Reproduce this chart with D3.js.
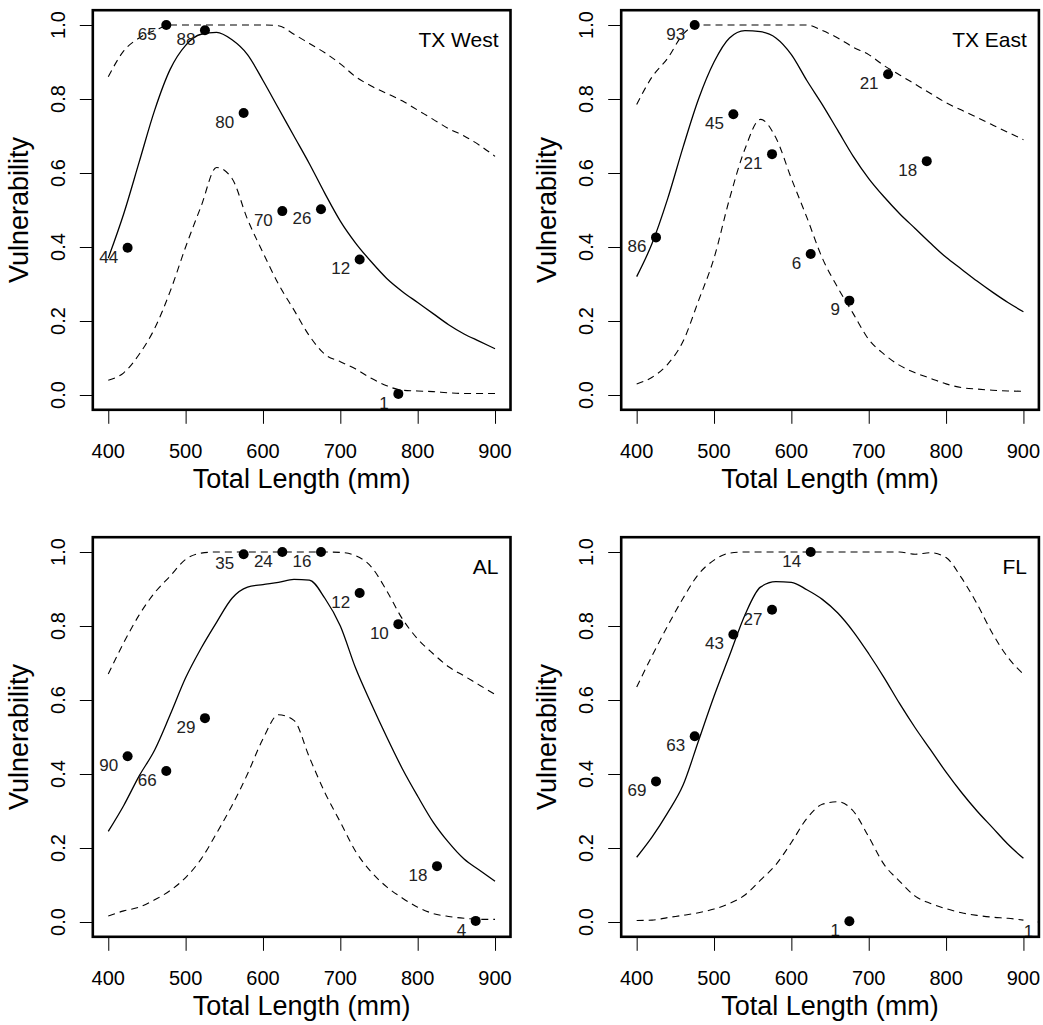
<!DOCTYPE html>
<html>
<head>
<meta charset="utf-8">
<script src="https://cdn.jsdelivr.net/npm/d3@7"></script>
<style>
  html, body { margin: 0; padding: 0; background: #fff; }
  text { font-family: "Liberation Sans", Arial, sans-serif; fill: #000; }
</style>
</head>
<body>
<svg id="chart" width="1043" height="1025"></svg>
<script>
// ---------- data ----------
const lengths = [400,420,440,460,480,500,520,540,560,580,600,620,640,660,680,700,720,740,760,780,800,820,840,860,880,900];
const xTicks = [400,500,600,700,800,900];
const yTicks = [0,0.2,0.4,0.6,0.8,1.0];
const yTickLabels = ["0.0","0.2","0.4","0.6","0.8","1.0"];
const panelNames = ["TX West","TX East","AL","FL"];

// TX West
const txWestFit   = [0.37,0.49,0.63,0.77,0.88,0.945,0.975,0.98,0.96,0.92,0.85,0.775,0.70,0.625,0.545,0.47,0.41,0.36,0.315,0.28,0.25,0.22,0.19,0.165,0.145,0.125];
const txWestUpper = [0.86,0.93,0.965,0.985,1.0,1.0,1.0,1.0,1.0,1.0,1.0,0.998,0.975,0.95,0.925,0.895,0.86,0.835,0.815,0.795,0.77,0.745,0.72,0.70,0.675,0.645];
const txWestLower = [0.04,0.06,0.11,0.18,0.28,0.40,0.51,0.615,0.585,0.475,0.385,0.30,0.23,0.16,0.11,0.09,0.07,0.045,0.025,0.013,0.011,0.009,0.006,0.004,0.004,0.004];
const txWestBinX  = [425,475,525,575,625,675,725,775];
const txWestObs   = [0.398,1.0,0.986,0.762,0.497,0.502,0.366,0.003];
const txWestN     = ["44","65","88","80","70","26","12","1"];

// TX East
const txEastFit   = [0.32,0.41,0.53,0.67,0.80,0.90,0.965,0.985,0.982,0.965,0.92,0.85,0.785,0.715,0.645,0.585,0.535,0.49,0.45,0.41,0.372,0.34,0.308,0.278,0.25,0.225];
const txEastUpper = [0.785,0.86,0.91,0.975,1.0,1.0,1.0,1.0,1.0,1.0,1.0,1.0,0.985,0.965,0.94,0.92,0.89,0.865,0.84,0.815,0.79,0.77,0.75,0.73,0.71,0.69];
const txEastLower = [0.03,0.048,0.083,0.145,0.255,0.37,0.53,0.665,0.745,0.695,0.585,0.48,0.37,0.29,0.22,0.15,0.11,0.08,0.06,0.045,0.03,0.02,0.016,0.013,0.011,0.01];
const txEastBinX  = [425,475,525,575,625,675,725,775];
const txEastObs   = [0.426,1.0,0.759,0.651,0.381,0.255,0.867,0.632];
const txEastN     = ["86","93","45","21","6","9","21","18"];

// AL
const alFit   = [0.245,0.315,0.395,0.465,0.56,0.66,0.74,0.81,0.875,0.905,0.912,0.918,0.926,0.924,0.875,0.80,0.685,0.59,0.50,0.415,0.34,0.27,0.215,0.17,0.14,0.11];
const alUpper = [0.67,0.755,0.83,0.89,0.935,0.98,0.997,1.0,1.0,1.0,1.0,1.0,1.0,1.0,1.0,0.999,0.99,0.96,0.895,0.82,0.765,0.725,0.69,0.665,0.64,0.615];
const alLower = [0.016,0.03,0.04,0.06,0.085,0.12,0.17,0.24,0.315,0.40,0.495,0.56,0.545,0.445,0.35,0.27,0.19,0.135,0.095,0.065,0.04,0.023,0.015,0.01,0.007,0.007];
const alBinX  = [425,475,525,575,625,675,725,775,825,875];
const alObs   = [0.448,0.408,0.551,0.994,1.0,1.0,0.889,0.805,0.151,0.003];
const alN     = ["90","66","29","35","24","16","12","10","18","4"];

// FL
const flFit   = [0.175,0.23,0.295,0.37,0.49,0.61,0.72,0.83,0.905,0.92,0.918,0.898,0.872,0.835,0.785,0.725,0.66,0.59,0.525,0.465,0.405,0.35,0.30,0.255,0.21,0.172];
const flUpper = [0.635,0.72,0.80,0.875,0.94,0.978,0.997,1.0,1.0,1.0,1.0,1.0,1.0,1.0,1.0,1.0,1.0,1.0,0.994,0.998,0.985,0.93,0.86,0.78,0.715,0.67];
const flLower = [0.004,0.005,0.012,0.018,0.025,0.035,0.05,0.073,0.113,0.155,0.215,0.28,0.318,0.325,0.30,0.23,0.155,0.11,0.07,0.05,0.036,0.025,0.018,0.013,0.01,0.005];
const flBinX  = [425,475,525,575,625,675,925];
const flObs   = [0.38,0.502,0.777,0.844,1.0,0.002,0.0];
const flN     = ["69","63","43","27","14","1","1"];

const panels = [
  {name: panelNames[0], fit: txWestFit, upper: txWestUpper, lower: txWestLower, bx: txWestBinX, obs: txWestObs, n: txWestN},
  {name: panelNames[1], fit: txEastFit, upper: txEastUpper, lower: txEastLower, bx: txEastBinX, obs: txEastObs, n: txEastN},
  {name: panelNames[2], fit: alFit, upper: alUpper, lower: alLower, bx: alBinX, obs: alObs, n: alN},
  {name: panelNames[3], fit: flFit, upper: flUpper, lower: flLower, bx: flBinX, obs: flObs, n: flN}
];

// ---------- layout ----------
const svg = d3.select("#chart");
svg.append("rect").attr("width",1043).attr("height",1025).attr("fill","#fff");

const colOff = [0, 528.4];
const rowOff = [0, 527];
const L = 92.8, R = 510.5, T = 10.2, B = 409.8;

panels.forEach((p, i) => {
  const ox = colOff[i % 2], oy = rowOff[Math.floor(i / 2)];
  const g = svg.append("g").attr("transform", `translate(${ox},${oy})`);
  const x = d3.scaleLinear().domain([380, 920]).range([L, R]);
  const y = d3.scaleLinear().domain([-0.04, 1.04]).range([B, T]);

  const clipId = "clip" + i;
  g.append("clipPath").attr("id", clipId)
    .append("rect").attr("x", L).attr("y", T).attr("width", R - L).attr("height", B - T);

  const plot = g.append("g").attr("clip-path", `url(#${clipId})`);
  const line = d3.line().x((d, k) => x(lengths[k])).y(d => y(d)).curve(d3.curveMonotoneX);

  plot.append("path").datum(p.upper).attr("d", line)
    .attr("fill", "none").attr("stroke", "#000").attr("stroke-width", 1.1).attr("stroke-dasharray", "7,5");
  plot.append("path").datum(p.lower).attr("d", line)
    .attr("fill", "none").attr("stroke", "#000").attr("stroke-width", 1.1).attr("stroke-dasharray", "7,5");
  plot.append("path").datum(p.fit).attr("d", line)
    .attr("fill", "none").attr("stroke", "#000").attr("stroke-width", 1.3);

  const pts = p.bx.map((bx, k) => ({x: bx, v: p.obs[k], n: p.n[k]}));
  plot.selectAll("circle").data(pts).enter().append("circle")
    .attr("cx", d => x(d.x)).attr("cy", d => y(d.v)).attr("r", 5).attr("fill", "#000");
  plot.selectAll("text.lab").data(pts).enter().append("text").attr("class", "lab")
    .attr("x", d => x(d.x) - 9.5).attr("y", d => y(d.v) + 14.8)
    .attr("text-anchor", "end").style("font-size", "17px").style("fill", "#222")
    .text(d => d.n);

  // axes ticks (outward from box)
  const xAxis = d3.axisBottom(x).tickValues(xTicks).tickSize(14).tickPadding(20).tickFormat(d3.format("d"));
  const xg = g.append("g").attr("transform", `translate(0,${B})`).call(xAxis);
  xg.select(".domain").remove();
  xg.selectAll("line").attr("stroke", "#000").attr("stroke-width", 1);
  xg.selectAll("text").remove();
  g.selectAll("text.xt").data(xTicks).enter().append("text").attr("class", "xt")
    .attr("x", d => x(d)).attr("y", B + 47.7).attr("text-anchor", "middle")
    .style("font-size", "20px").text(d => d);

  const yAxis = d3.axisLeft(y).tickValues(yTicks).tickSize(13);
  const yg = g.append("g").attr("transform", `translate(${L},0)`).call(yAxis);
  yg.select(".domain").remove();
  yg.selectAll("line").attr("stroke", "#000").attr("stroke-width", 1);
  yg.selectAll("text").remove();
  g.selectAll("text.yt").data(yTicks).enter().append("text").attr("class", "yt")
    .attr("transform", d => `translate(${L - 28.3},${y(d)}) rotate(-90)`)
    .attr("text-anchor", "middle").style("font-size", "20px")
    .text((d, k) => yTickLabels[k]);

  // box
  g.append("rect").attr("x", L).attr("y", T).attr("width", R - L).attr("height", B - T)
    .attr("fill", "none").attr("stroke", "#000").attr("stroke-width", 2.6);

  // titles
  g.append("text").attr("x", (L + R) / 2).attr("y", B + 78).attr("text-anchor", "middle")
    .style("font-size", "27px").text("Total Length (mm)");
  g.append("text").attr("transform", `translate(${L - 65},${(T + B) / 2}) rotate(-90)`)
    .attr("text-anchor", "middle").style("font-size", "27px").text("Vulnerability");

  g.append("text").attr("x", R - 12).attr("y", T + 36.5).attr("text-anchor", "end")
    .style("font-size", "21px").text(p.name);
});
</script>
</body>
</html>
